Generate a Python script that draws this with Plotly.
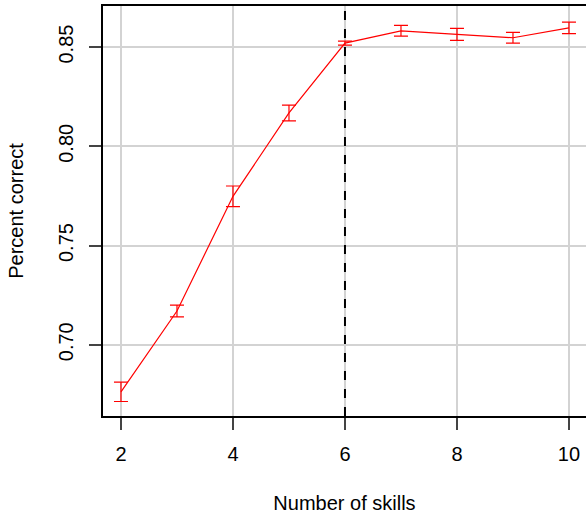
import plotly.graph_objects as go

# Accuracy by number of skills (mean and error half-width)
skills = [2, 3, 4, 5, 6, 7, 8, 9, 10]
pct_correct = [0.6763, 0.7170, 0.7748, 0.8168, 0.8520, 0.8582, 0.8564, 0.8547, 0.8597]
pct_err = [0.0049, 0.0030, 0.0052, 0.0040, 0.0010, 0.0027, 0.0030, 0.0027, 0.0029]
chosen_k = 6

x_ticks = [2, 4, 6, 8, 10]
y_ticks = [0.70, 0.75, 0.80, 0.85]

FONT = "Liberation Sans, Arial, sans-serif"
FONT_SIZE = 20
AXIS_COLOR = "#444444"
GRID_COLOR = "#d3d3d3"

fig = go.Figure()

fig.add_trace(go.Scatter(
    x=skills,
    y=pct_correct,
    mode="lines",
    line=dict(color="#ff0000", width=1.2),
    error_y=dict(type="data", array=pct_err, visible=True,
                 color="#ff0000", thickness=1.2, width=7),
    showlegend=False,
    hoverinfo="x+y",
))

# Vertical marker at the selected number of skills
fig.add_shape(
    type="line", xref="x", yref="paper",
    x0=chosen_k, x1=chosen_k, y0=0, y1=1,
    line=dict(color="black", width=2, dash="dash"),
    layer="above",
)

fig.update_layout(
    width=586,
    height=514,
    margin=dict(l=103, r=0, t=6, b=98),
    paper_bgcolor="white",
    plot_bgcolor="white",
    font=dict(family=FONT, size=FONT_SIZE, color="black"),
    xaxis=dict(
        range=[1.679, 10.304],
        tickvals=x_ticks,
        ticktext=[str(v) for v in x_ticks],
        tickfont=dict(family=FONT, size=FONT_SIZE),
        showgrid=True, gridcolor=GRID_COLOR, gridwidth=2,
        zeroline=False,
        showline=True, linecolor="black", linewidth=1.5, mirror=True,
        ticks="outside", ticklen=12, tickwidth=1.5, tickcolor=AXIS_COLOR,
        ticklabelstandoff=7,
        title=dict(text="Number of skills", standoff=34,
                   font=dict(family=FONT, size=FONT_SIZE)),
    ),
    yaxis=dict(
        range=[0.6641, 0.8707],
        tickvals=y_ticks,
        ticktext=["0.70", "0.75", "0.80", "0.85"],
        tickangle=-90,
        tickfont=dict(family=FONT, size=FONT_SIZE),
        showgrid=True, gridcolor=GRID_COLOR, gridwidth=2,
        zeroline=False,
        showline=True, linecolor="black", linewidth=1.5, mirror=False,
        ticks="outside", ticklen=12, tickwidth=1.5, tickcolor=AXIS_COLOR,
        ticklabelstandoff=8,
        title=dict(text="Percent correct", standoff=26,
                   font=dict(family=FONT, size=FONT_SIZE)),
    ),
)

fig.write_html("out.html")
